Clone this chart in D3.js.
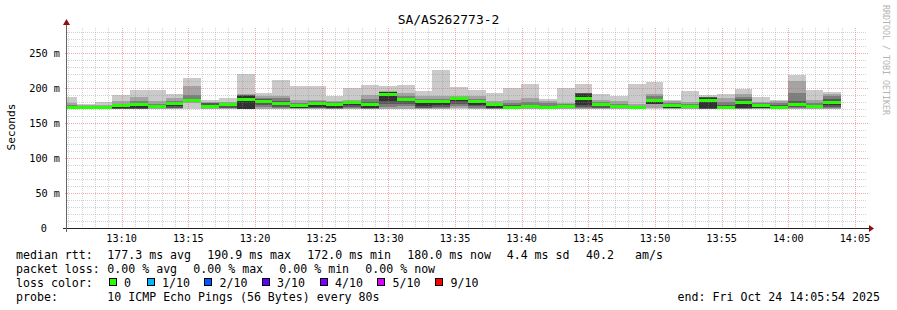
<!DOCTYPE html>
<html><head><meta charset="utf-8">
<script src="https://cdn.jsdelivr.net/npm/d3@7"></script>
<style>
html,body{margin:0;padding:0;background:#fff}
svg text{font-family:"DejaVu Sans Mono",monospace;fill:#000}
</style></head><body>
<svg id="chart" width="897" height="310"></svg>
<script>
// ---------- data ----------
const title = "SA/AS262773-2";
const startTime = "13:05:54", endTime = "14:05:54";
// end time of each 80 s step (first step is clipped by the start of the graph)
const binEnd = ["13:06:38","13:07:58","13:09:18","13:10:38","13:11:58","13:13:18","13:14:38","13:15:58","13:17:18","13:18:38",
"13:19:58","13:21:18","13:22:38","13:23:58","13:25:18","13:26:38","13:27:58","13:29:18","13:30:38","13:31:58",
"13:33:18","13:34:38","13:35:58","13:37:18","13:38:38","13:39:58","13:41:18","13:42:38","13:43:58","13:45:18",
"13:46:38","13:47:58","13:49:18","13:50:38","13:51:58","13:53:18","13:54:38","13:55:58","13:57:18","13:58:38",
"13:59:58","14:01:18","14:02:38","14:03:58"];
const medianRtt = [172.4,172.6,172.1,174.4,175.8,173.3,177.5,181.6,173.3,177,183.3,180.4,178.5,174.6,177.3,176.9,178.6,176.9,190.9,183.3,
180.9,181.1,184.7,181.4,176.4,172.6,172.9,172.0,173.6,184.7,176.4,172.9,172.3,181.6,175.3,174.2,182.7,172.2,179.3,175,172.6,177,173.3,180.0];
// sorted pings (ms), rank 1 (fastest) .. rank 10 (slowest)
const ping1 = [169.5,169.5,169.5,169.5,169.5,169.5,169.5,170,169.5,169.5,169.5,169.5,169.5,169.5,169.5,169.5,169.5,169.5,169.5,169.5,
169.5,169.5,169.5,169.5,169.5,169.5,169.5,169.5,169.5,169.5,169.5,169.5,169.5,170,169.5,169.5,169.5,169.5,169.5,169.5,169.5,169.5,169.5,169.5];
const ping2 = [170.3,170.3,170.3,170.3,170.3,170.3,170.3,179,170.3,170.3,169.8,170.3,170.3,170.3,170.3,170.3,170.3,170.3,170.5,170.5,
170.3,170.3,171,170.3,170.3,170.3,170.3,170.3,170.3,170.3,170.3,170.3,170.3,172,170.3,170.3,170,170.3,170.3,170.3,170.3,170.3,170.3,170.3];
const ping3 = [171,171,171,170.5,170.5,171,171,180,171,171,170,173,171,170.8,171,170.6,171,170.6,173,174,
171,171,174,172,170.6,171,171,171,171,171,171,171,171,176.5,171,171,170.3,171,170.6,171,171,171,171,171];
const ping4 = [171.5,171.5,171.3,170.7,170.7,171.5,172,180.5,171.5,172,170.3,176,173,171,172,170.8,173,170.8,177,177,
172,173,177,174,170.8,171.5,171.5,171.5,171.5,173,172,171.5,171.5,177,171.5,172,170.6,172,171,171.5,171.5,173,172,173];
const ping5 = [171.8,172,171.6,170.8,170.8,172,174.5,181,172,174.5,170.5,179,176,171.3,173,171,176,171,181,181,
174,176,181,176,171,172,172,171.8,172,176,174,172,171.8,177.5,172,172.5,171,172.5,171.5,172,172,175,172.5,176];
const ping6 = [173,173,172.5,175,176.5,174,178,182,174,177.5,189,181,180,175.5,179.5,177.5,179.5,178,194,184.5,
182,182,185.5,182,177,174,174,173.5,174.5,192,177.5,174,173,182,176.5,175,186,174,181.5,176,174.5,178,174.5,182];
const ping7 = [174,173.5,173.5,176,178,175,179,184,178.5,178,189.5,184,182,177,180,178.5,180.5,180,194.5,186,
183,183,186,183,178,176,176,175,175.5,192.2,178.5,175,174,185,177.5,176,186.5,176,184,177,176,181,176,185];
const ping8 = [176,174.5,174.5,177,181,177,181,190,179,179,190,186,186,178,181,179.5,181.5,185,195,189,
185,185,186.5,185,179,179,180,178,176.5,192.5,180,177,175,189,179,177,187,180,187.5,178,178,193,178,189];
const ping9 = [179,175.5,176,181,187,181,186,203.5,180.5,180,191,188.5,189,183,183,181,183.3,190,196,193,
188.5,188,188,189,181.5,183,186,181.3,178,193,183,181,177,192,181,179.5,187.5,186,192,180,181,210.5,182.5,192];
const ping10 = [187.6,176.7,180,190.4,196.5,197.6,191.5,214.5,183,186,220,193,211.5,202.5,203.5,188,200,204.7,203.5,205,
195.5,226,201,196.6,193.3,199.4,206,184.7,199.4,206,192,189,206,209,183.5,196,190,192,198,187.5,183.3,218,197.5,194.5];
const yTickValues = [0,50,100,150,200,250];
const yTickLabels = ["0","50 m","100 m","150 m","200 m","250 m"];
const xTickLabels = ["13:10","13:15","13:20","13:25","13:30","13:35","13:40","13:45","13:50","13:55","14:00","14:05"];
const lossLabels = ["0","1/10","2/10","3/10","4/10","5/10","9/10"];
const lossColors = ["#26ff00","#00b8ff","#0059ff","#5e00ff","#7e00ff","#dd00ff","#ff0000"];
const statsRtt = ["177.3 ms avg","190.9 ms max","172.0 ms min","180.0 ms now","4.4 ms sd","40.2","am/s"];
const statsLoss = ["0.00 % avg","0.00 % max","0.00 % min","0.00 % now"];
const probeText = "10 ICMP Echo Pings (56 Bytes) every 80s";
const endText = "end: Fri Oct 24 14:05:54 2025";
const smokeGreys = ["#cacaca","#a4a4a4","#7e7e7e","#585858","#323232"];

// ---------- helpers ----------
const T = s => { const [h,m,sec] = s.split(":").map(Number); return new Date(2025,9,24,h,m,sec); };
const svg = d3.select("#chart");
const L = {x0:67, x1:867, y0:228, y1:28};
const x = d3.scaleTime().domain([T(startTime), T(endTime)]).range([L.x0, L.x1]);
const y = d3.scaleLinear().domain([0, 200/0.7]).range([L.y0, L.y1]);
const pings = [ping1,ping2,ping3,ping4,ping5,ping6,ping7,ping8,ping9,ping10];
const R = Math.round;

// ---------- smoke ----------
const gSmoke = svg.append("g").attr("shape-rendering","crispEdges");
const bins = binEnd.map((e,i)=>({
  t0: i===0 ? T(startTime) : T(binEnd[i-1]),
  t1: T(e), i
}));
for (let layer=0; layer<5; layer++){
  const lo = pings[layer], hi = pings[9-layer];
  gSmoke.selectAll(null).data(bins).enter().append("rect")
    .attr("x", d=>R(x(d.t0)))
    .attr("width", d=>R(x(d.t1))-R(x(d.t0)))
    .attr("y", d=>R(y(hi[d.i])))
    .attr("height", d=>Math.max(1,R(y(lo[d.i]))-R(y(hi[d.i]))))
    .attr("fill", smokeGreys[layer]);
}
// median, coloured by loss (all 0 loss)
gSmoke.selectAll(null).data(bins).enter().append("rect")
  .attr("x", d=>R(x(d.t0)))
  .attr("width", d=>R(x(d.t1))-R(x(d.t0)))
  .attr("y", d=>R(y(medianRtt[d.i])-1.5))
  .attr("height", 3)
  .attr("fill", lossColors[0]);

// ---------- grid (drawn over the graph like rrdtool) ----------
const minorCol = "rgba(140,140,140,0.38)", majorCol = "rgba(235,90,90,0.5)";
const gGrid = svg.append("g").attr("shape-rendering","crispEdges");
const minorY = d3.range(10, 290, 10).filter(v=>v%50!==0);
gGrid.selectAll(null).data(minorY).enter().append("line")
  .attr("x1",L.x0).attr("x2",L.x1)
  .attr("y1",v=>R(y(v))+0.5).attr("y2",v=>R(y(v))+0.5)
  .attr("stroke",minorCol).attr("stroke-dasharray","1,1");
const minutes = d3.timeMinute.range(T(startTime), T(endTime)).filter(d=>d.getMinutes()%5!==0);
gGrid.selectAll(null).data(minutes).enter().append("line")
  .attr("y1",L.y1).attr("y2",L.y0)
  .attr("x1",d=>R(x(d))+0.5).attr("x2",d=>R(x(d))+0.5)
  .attr("stroke",minorCol).attr("stroke-dasharray","1,1");
gGrid.selectAll(null).data(yTickValues.slice(1)).enter().append("line")
  .attr("x1",L.x0-2).attr("x2",L.x1+2)
  .attr("y1",v=>R(y(v))+0.5).attr("y2",v=>R(y(v))+0.5)
  .attr("stroke",majorCol).attr("stroke-dasharray","1,1");
const fives = d3.timeMinute.every(5).range(T(startTime), T(endTime));
gGrid.selectAll(null).data(fives).enter().append("line")
  .attr("y1",L.y1).attr("y2",L.y0+2)
  .attr("x1",d=>R(x(d))+0.5).attr("x2",d=>R(x(d))+0.5)
  .attr("stroke",majorCol).attr("stroke-dasharray","1,1");

// ---------- axes ----------
const gAx = svg.append("g").attr("shape-rendering","crispEdges");
gAx.append("line").attr("x1",63).attr("x2",870).attr("y1",L.y0+0.5).attr("y2",L.y0+0.5).attr("stroke","#222");
gAx.append("line").attr("x1",L.x0-0.5).attr("x2",L.x0-0.5).attr("y1",L.y0+4).attr("y2",22).attr("stroke","#666");
svg.append("path").attr("d",`M869,225 L874,228.5 L869,232 Z`).attr("fill","#8b1010");
svg.append("path").attr("d",`M63,25 L66.5,19 L70,25 Z`).attr("fill","#8b1010");

// y tick labels
svg.selectAll(null).data(yTickValues).enter().append("text")
  .attr("x", (v,i)=> i===0 ? 47 : 60)
  .attr("y", v=>y(v)+3.5)
  .attr("text-anchor","end").attr("font-size","10.2px")
  .text((v,i)=>yTickLabels[i]);
// x tick labels
const xTickDates = xTickLabels.map(s=>T(s+":00"));
svg.selectAll(null).data(xTickDates).enter().append("text")
  .attr("x", d=>x(d)).attr("y", 241.5)
  .attr("text-anchor","middle").attr("font-size","10.2px")
  .text((d,i)=>xTickLabels[i]);

// title, y label, watermark
svg.append("text").attr("x",448.5).attr("y",23.5).attr("text-anchor","middle").attr("font-size","13px").text(title);
svg.append("text").attr("transform","translate(15,127) rotate(-90)").attr("text-anchor","middle").attr("font-size","11.2px").text("Seconds");
svg.append("text").attr("transform","translate(883,5) rotate(90)").attr("font-size","8.3px").style("fill","#b4b4b4").text("RRDTOOL / TOBI OETIKER");

// ---------- legend ----------
const LF = "11.6px";
const leg = svg.append("g").attr("font-size",LF);
const row = [258.5, 272.5, 286.5, 300.5];
leg.append("text").attr("x",16).attr("y",row[0]).text("median rtt:");
const rttX = [107.3,207.3,307.3,407.3,506.7,586,635];
statsRtt.forEach((s,i)=>leg.append("text").attr("x",rttX[i]).attr("y",row[0]).text(s));
leg.append("text").attr("x",16).attr("y",row[1]).text("packet loss:");
statsLoss.forEach((s,i)=>leg.append("text").attr("x",107.3+86*i).attr("y",row[1]).text(s));
leg.append("text").attr("x",16).attr("y",row[2]).text("loss color:");
const boxX = [108.5,146.5,204,261.5,319.5,377,435];
lossLabels.forEach((s,i)=>{
  leg.append("rect").attr("x",boxX[i]+0.5).attr("y",278.5).attr("width",7).attr("height",7)
    .attr("fill",lossColors[i]).attr("stroke","#000").attr("stroke-width",1).attr("shape-rendering","crispEdges");
  leg.append("text").attr("x",boxX[i]+15.5).attr("y",row[2]).text(s);
});
leg.append("text").attr("x",16).attr("y",row[3]).text("probe:");
leg.append("text").attr("x",107.3).attr("y",row[3]).text(probeText);
leg.append("text").attr("x",880).attr("y",row[3]).attr("text-anchor","end").text(endText);
</script>
</body></html>
